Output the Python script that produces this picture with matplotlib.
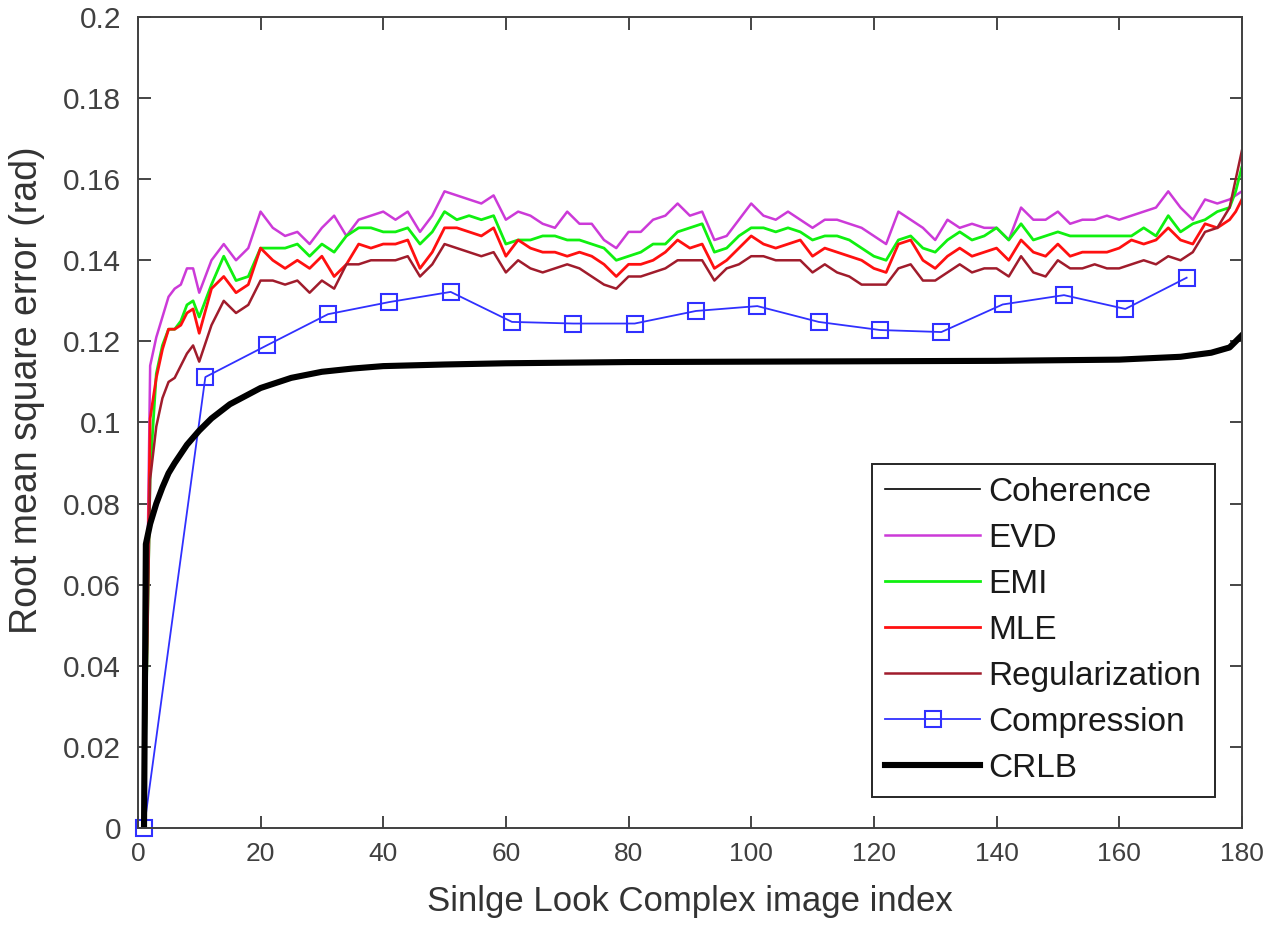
import matplotlib
matplotlib.use('Agg')
import matplotlib.pyplot as plt

plt.rcParams['font.family'] = ['Liberation Sans', 'DejaVu Sans']

# indice de imagen (eje x) para las curvas ruidosas
idx = [1, 2, 3, 4, 5, 6, 7, 8, 9, 10] + list(range(12, 179, 2)) + [179, 180]

evd = [0, 0.114, 0.121, 0.126, 0.131, 0.133, 0.134, 0.138, 0.138, 0.132,
       0.140, 0.144, 0.140, 0.143, 0.152, 0.148, 0.146, 0.147, 0.144, 0.148,
       0.151, 0.146, 0.150, 0.151, 0.152, 0.150, 0.152, 0.147, 0.151, 0.157,
       0.156, 0.155, 0.154, 0.156, 0.150, 0.152, 0.151, 0.149, 0.148, 0.152,
       0.149, 0.149, 0.145, 0.143, 0.147, 0.147, 0.150, 0.151, 0.154, 0.151,
       0.152, 0.145, 0.146, 0.150, 0.154, 0.151, 0.150, 0.152, 0.150, 0.148,
       0.150, 0.150, 0.149, 0.148, 0.146, 0.144, 0.152, 0.150, 0.148, 0.145,
       0.150, 0.148, 0.149, 0.148, 0.148, 0.145, 0.153, 0.150, 0.150, 0.152,
       0.149, 0.150, 0.150, 0.151, 0.150, 0.151, 0.152, 0.153, 0.157, 0.153,
       0.150, 0.155, 0.154, 0.155, 0.156, 0.157]

emi = [0, 0.088, 0.112, 0.119, 0.123, 0.123, 0.125, 0.129, 0.130, 0.126,
       0.134, 0.141, 0.135, 0.136, 0.143, 0.143, 0.143, 0.144, 0.141, 0.144,
       0.142, 0.146, 0.148, 0.148, 0.147, 0.147, 0.148, 0.144, 0.147, 0.152,
       0.150, 0.151, 0.150, 0.151, 0.144, 0.145, 0.145, 0.146, 0.146, 0.145,
       0.145, 0.144, 0.143, 0.140, 0.141, 0.142, 0.144, 0.144, 0.147, 0.148,
       0.149, 0.142, 0.143, 0.146, 0.148, 0.148, 0.147, 0.148, 0.147, 0.145,
       0.146, 0.146, 0.145, 0.143, 0.141, 0.140, 0.145, 0.146, 0.143, 0.142,
       0.145, 0.147, 0.145, 0.146, 0.148, 0.145, 0.149, 0.145, 0.146, 0.147,
       0.146, 0.146, 0.146, 0.146, 0.146, 0.146, 0.148, 0.146, 0.151, 0.147,
       0.149, 0.150, 0.152, 0.153, 0.157, 0.163]

mle = [0, 0.101, 0.111, 0.118, 0.123, 0.123, 0.124, 0.127, 0.128, 0.122,
       0.133, 0.136, 0.132, 0.134, 0.143, 0.140, 0.138, 0.140, 0.138, 0.141,
       0.136, 0.139, 0.144, 0.143, 0.144, 0.144, 0.145, 0.138, 0.142, 0.148,
       0.148, 0.147, 0.146, 0.148, 0.141, 0.145, 0.143, 0.142, 0.142, 0.141,
       0.142, 0.141, 0.139, 0.136, 0.139, 0.139, 0.140, 0.142, 0.145, 0.143,
       0.144, 0.138, 0.140, 0.143, 0.146, 0.144, 0.143, 0.144, 0.145, 0.141,
       0.143, 0.142, 0.141, 0.140, 0.138, 0.137, 0.144, 0.145, 0.140, 0.138,
       0.141, 0.143, 0.141, 0.142, 0.143, 0.140, 0.145, 0.142, 0.141, 0.144,
       0.141, 0.142, 0.142, 0.142, 0.143, 0.145, 0.144, 0.145, 0.148, 0.145,
       0.144, 0.149, 0.148, 0.150, 0.152, 0.155]

regularization = [0, 0.086, 0.099, 0.106, 0.110, 0.111, 0.114, 0.117, 0.119, 0.115,
                  0.124, 0.130, 0.127, 0.129, 0.135, 0.135, 0.134, 0.135, 0.132, 0.135,
                  0.133, 0.139, 0.139, 0.140, 0.140, 0.140, 0.141, 0.136, 0.139, 0.144,
                  0.143, 0.142, 0.141, 0.142, 0.137, 0.140, 0.138, 0.137, 0.138, 0.139,
                  0.138, 0.136, 0.134, 0.133, 0.136, 0.136, 0.137, 0.138, 0.140, 0.140,
                  0.140, 0.135, 0.138, 0.139, 0.141, 0.141, 0.140, 0.140, 0.140, 0.137,
                  0.139, 0.137, 0.136, 0.134, 0.134, 0.134, 0.138, 0.139, 0.135, 0.135,
                  0.137, 0.139, 0.137, 0.138, 0.138, 0.136, 0.141, 0.137, 0.136, 0.140,
                  0.138, 0.138, 0.139, 0.138, 0.138, 0.139, 0.140, 0.139, 0.141, 0.140,
                  0.142, 0.147, 0.148, 0.153, 0.160, 0.167]

# Compression: un marcador cada 10 imagenes
comp_idx = [1, 11, 21, 31, 41, 51, 61, 71, 81, 91, 101, 111, 121, 131, 141, 151, 161, 171]
compression = [0, 0.1112, 0.119, 0.1267, 0.1297, 0.1322, 0.1248, 0.1244, 0.1244, 0.1275,
               0.1287, 0.1248, 0.1228, 0.1223, 0.1291, 0.1314, 0.1280, 0.1357]

# CRLB
crlb_idx = [1, 1.3, 2, 3, 4, 5, 6, 8, 10, 12, 15, 20, 25, 30, 35, 40, 50, 60, 80,
            100, 120, 140, 160, 170, 175, 178, 180]
crlb = [0, 0.070, 0.075, 0.080, 0.084, 0.0875, 0.090, 0.0945, 0.098, 0.101, 0.1045,
        0.1085, 0.111, 0.1125, 0.1133, 0.1139, 0.1143, 0.1146, 0.1149,
        0.1150, 0.1151, 0.1152, 0.1155, 0.1162, 0.1172, 0.1185, 0.1215]

# Coherence no se ve dentro del rango del grafico
coherence_idx = []
coherence = []

fig = plt.figure(figsize=(12.65, 9.27), dpi=100)
ax = fig.add_axes([0.109, 0.1068, 0.8727, 0.8749])

ax.plot(coherence_idx, coherence, color='black', lw=1.2, label='Coherence')
ax.plot(idx, evd, color='#cc3ad8', lw=1.8, label='EVD')
ax.plot(idx, emi, color='#10f010', lw=2.0, label='EMI')
ax.plot(idx, mle, color='#ff1010', lw=2.0, label='MLE')
ax.plot(idx, regularization, color='#a01c2c', lw=1.8, label='Regularization')
ax.plot(comp_idx, compression, color='#3030ff', lw=1.3, marker='s', ms=11,
        mfc='none', mec='#3030ff', mew=1.5, label='Compression', clip_on=False)
ax.plot(crlb_idx, crlb, color='black', lw=4.4, label='CRLB')

ax.set_xlim(0, 180)
ax.set_ylim(0, 0.2)
ax.set_xticks(range(0, 181, 20))
ax.set_yticks([0, 0.02, 0.04, 0.06, 0.08, 0.1, 0.12, 0.14, 0.16, 0.18, 0.2])
ax.set_yticklabels(['0', '0.02', '0.04', '0.06', '0.08', '0.1', '0.12', '0.14',
                    '0.16', '0.18', '0.2'])
ax.tick_params(direction='in', length=9, width=1.2, top=True, right=True,
               colors='#262626', labelcolor='#404040')
ax.tick_params(axis='y', labelsize=21.5, pad=12)
ax.tick_params(axis='x', labelsize=19, pad=10)
for s in ax.spines.values():
    s.set_color('#404040')
    s.set_linewidth(1.4)

ax.set_xlabel('Sinlge Look Complex image index', fontsize=25, color='#333333',
              labelpad=14)
ax.set_ylabel('Root mean square error (rad)', fontsize=27, color='#333333')
ax.yaxis.set_label_coords(-0.084, 0.54)

leg = ax.legend(loc='lower right', bbox_to_anchor=(0.9755, 0.038), fontsize=24,
                frameon=True, fancybox=False, framealpha=1, edgecolor='#262626',
                handlelength=2.85, handletextpad=0.25, labelspacing=0.45,
                borderpad=0.4, borderaxespad=0)
leg.get_frame().set_linewidth(1.4)
for t in leg.get_texts():
    t.set_color('#1a1a1a')

fig.savefig('out.png', dpi=100)
plt.close(fig)
